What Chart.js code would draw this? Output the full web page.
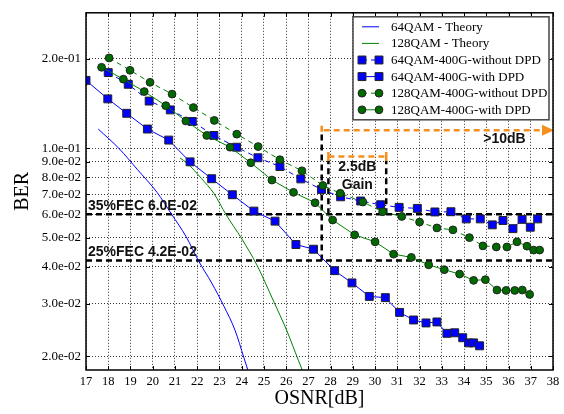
<!DOCTYPE html>
<html>
<head>
<meta charset="utf-8">
<script src="https://cdn.jsdelivr.net/npm/chart.js@4.4.1/dist/chart.umd.min.js"></script>
<style>
  html, body { margin: 0; padding: 0; background: #fff; }
  #wrap { width: 564px; height: 414px; }
</style>
</head>
<body>
<div id="wrap"><canvas id="berChart" width="564" height="414"></canvas></div>
<script>
// ─── Axis ticks ────────────────────────────────────────────────
const xTickVals   = [17, 18, 19, 20, 21, 22, 23, 24, 25, 26, 27, 28, 29, 30, 31, 32, 33, 34, 35, 36, 37, 38];
const yTickVals   = [0.2, 0.1, 0.09, 0.08, 0.07, 0.06, 0.05, 0.04, 0.03, 0.02];
const yTickLabels = ['2.0e-01', '1.0e-01', '9.0e-02', '8.0e-02', '7.0e-02', '6.0e-02', '5.0e-02', '4.0e-02', '3.0e-02', '2.0e-02'];

// ─── Series (OSNR in dB, BER) ──────────────────────────────────
const theory64X = [17.55, 18.5, 19.3, 20.2, 20.85, 21.5, 22.05, 22.66, 23.2, 23.7, 24.1, 24.3];
const theory64Y = [0.116, 0.0995, 0.085, 0.071, 0.060, 0.0505, 0.042, 0.0352, 0.0295, 0.0245, 0.0198, 0.0178];

const theory128X = [21.23, 21.55, 22.2, 22.75, 23.3, 24.0, 24.68, 25.43, 26.03, 26.55, 26.75];
const theory128Y = [0.0927, 0.089, 0.079, 0.0705, 0.0598, 0.0497, 0.0406, 0.0307, 0.0244, 0.0194, 0.0178];

const qam64NoDpdX = [18.0, 18.9, 19.84, 20.79, 21.78, 22.75, 23.77, 24.73, 25.72, 26.66, 27.59, 28.45, 29.35,
                     30.25, 31.08, 31.9, 32.69, 33.41, 34.1, 34.73, 35.27, 35.75, 36.2, 36.61, 36.98, 37.31];
const qam64NoDpdY = [0.1795, 0.164, 0.144, 0.1345, 0.123, 0.1104, 0.1008, 0.0929, 0.0868, 0.0789, 0.0727, 0.0687, 0.0665,
                     0.0646, 0.0633, 0.0628, 0.0611, 0.0612, 0.0579, 0.0579, 0.0553, 0.0572, 0.0537, 0.0577, 0.0543, 0.0579];

const qam64DpdX = [17.0, 17.98, 18.83, 19.76, 20.72, 21.68, 22.65, 23.58, 24.55, 25.5, 26.44, 27.23, 28.18,
                   28.96, 29.74, 30.46, 31.1, 31.73, 32.29, 32.78, 33.23, 33.58, 33.94, 34.2, 34.43, 34.7];
const qam64DpdY = [0.169, 0.1465, 0.131, 0.116, 0.1065, 0.090, 0.079, 0.0698, 0.0615, 0.0569, 0.0475, 0.0458, 0.0388,
                   0.0353, 0.0318, 0.0315, 0.0281, 0.0265, 0.0259, 0.0261, 0.0239, 0.0240, 0.0231, 0.0222, 0.0222, 0.0217];

const qam128NoDpdX = [18.04, 18.98, 19.88, 20.87, 21.83, 22.77, 23.78, 24.74, 25.72, 26.71, 27.65, 28.43, 29.45,
                      30.34, 31.2, 32.0, 32.78, 33.5, 34.24, 34.85, 35.45, 35.93, 36.38, 36.83, 37.13, 37.4];
const qam128NoDpdY = [0.201, 0.1827, 0.1665, 0.152, 0.137, 0.124, 0.1115, 0.1013, 0.0915, 0.084, 0.075, 0.0706, 0.066,
                      0.0612, 0.059, 0.0565, 0.054, 0.0532, 0.0501, 0.047, 0.0466, 0.0466, 0.0485, 0.0469, 0.0455, 0.0455];

const qam128DpdX = [17.7, 18.68, 19.62, 20.59, 21.49, 22.43, 23.48, 24.41, 25.36, 26.33, 27.3, 28.09, 29.08,
                    30.0, 30.83, 31.63, 32.41, 33.11, 33.8, 34.43, 34.96, 35.48, 35.89, 36.28, 36.62, 36.95];
const qam128DpdY = [0.187, 0.1706, 0.155, 0.139, 0.1235, 0.1104, 0.1008, 0.0894, 0.0782, 0.0711, 0.0656, 0.0574, 0.0512,
                    0.0485, 0.0441, 0.043, 0.0406, 0.0391, 0.0378, 0.036, 0.0362, 0.0334, 0.0333, 0.0333, 0.0334, 0.0323];

const seriesLabels = ['64QAM - Theory', '128QAM - Theory', '64QAM-400G-without DPD',
                      '64QAM-400G-with DPD', '128QAM-400G-without DPD', '128QAM-400G-with DPD'];

// ─── Annotations ───────────────────────────────────────────────
const fecLevels   = [0.06, 0.042];
const fecLabels   = ['35%FEC 6.0E-02', '25%FEC 4.2E-02'];
const marginX     = 27.6;   // 64QAM with DPD at 25% FEC
const marginTopY  = 0.119;
const arrowY      = 0.115;
const arrowEndX   = 38;
const gainX       = [27.9, 30.5];
const gainY       = 0.0938;
const gainText    = ['2.5dB', 'Gain'];
const gainTextY   = [0.0862, 0.0752];
const marginText  = '>10dB';
const marginTextX = 35.82;
const marginTextY = 0.107;

const SERIF  = '"Liberation Serif", "Times New Roman", serif';
const SANS   = '"Liberation Sans", Arial, sans-serif';
const BLUE   = '#0000ff';
const GREEN  = '#008000';
const ORANGE = '#f39020';

const pts = (xs, ys) => xs.map((x, i) => ({ x, y: ys[i] }));

function markerSet(label, xs, ys, color, style, dashed, order) {
    return {
        label,
        data: pts(xs, ys),
        showLine: true,
        borderColor: color,
        borderWidth: 1,
        borderDash: dashed ? [5, 4] : [],
        pointStyle: style,
        pointRadius: style === 'rect' ? 5.6 : 3.9,
        pointBackgroundColor: style === 'rect' ? BLUE : '#006a00',
        pointBorderColor: '#222',
        pointBorderWidth: 1,
        order
    };
}

const datasets = [
    { label: seriesLabels[0], data: pts(theory64X, theory64Y), showLine: true, borderColor: BLUE,
      borderWidth: 1, pointRadius: 0, cubicInterpolationMode: 'monotone', order: 10 },
    { label: seriesLabels[1], data: pts(theory128X, theory128Y), showLine: true, borderColor: GREEN,
      borderWidth: 1, pointRadius: 0, cubicInterpolationMode: 'monotone', order: 9 },
    markerSet(seriesLabels[2], qam64NoDpdX,  qam64NoDpdY,  BLUE,  'rect',   true,  8),
    markerSet(seriesLabels[3], qam64DpdX,    qam64DpdY,    BLUE,  'rect',   false, 7),
    markerSet(seriesLabels[4], qam128NoDpdX, qam128NoDpdY, GREEN, 'circle', true,  6),
    markerSet(seriesLabels[5], qam128DpdX,   qam128DpdY,   GREEN, 'circle', false, 5)
];

// ─── Frame with inward ticks ───────────────────────────────────
const framePlugin = {
    id: 'frame',
    afterDraw(chart) {
        const { ctx, chartArea: a, scales: { x, y } } = chart;
        ctx.save();
        ctx.strokeStyle = '#000';
        ctx.lineWidth = 1;
        ctx.beginPath();
        xTickVals.forEach(v => {
            const px = Math.round(x.getPixelForValue(v)) + 0.5;
            ctx.moveTo(px, a.bottom); ctx.lineTo(px, a.bottom - 4);
            ctx.moveTo(px, a.top);    ctx.lineTo(px, a.top + 4);
        });
        yTickVals.forEach(v => {
            const py = Math.round(y.getPixelForValue(v)) + 0.5;
            ctx.moveTo(a.left, py);  ctx.lineTo(a.left + 4, py);
            ctx.moveTo(a.right, py); ctx.lineTo(a.right - 4, py);
        });
        ctx.stroke();
        ctx.lineWidth = 1.5;
        ctx.strokeRect(a.left, a.top, a.right - a.left, a.bottom - a.top);
        ctx.restore();
    }
};

// ─── FEC lines, gain bracket and margin arrow ──────────────────
function dashed(ctx, color, pts2) {
    ctx.strokeStyle = color;
    ctx.beginPath();
    ctx.moveTo(pts2[0], pts2[1]);
    ctx.lineTo(pts2[2], pts2[3]);
    ctx.stroke();
}

const annotationPlugin = {
    id: 'annotations',
    beforeDatasetsDraw(chart) {
        const { ctx, chartArea: a, scales: { x, y } } = chart;
        ctx.save();
        ctx.lineWidth = 2.5;
        ctx.setLineDash([6, 4]);

        fecLevels.forEach(v => {
            const py = y.getPixelForValue(v);
            dashed(ctx, '#000', [a.left, py, a.right, py]);
        });

        // vertical markers
        const mx = x.getPixelForValue(marginX);
        const ay = y.getPixelForValue(arrowY);
        dashed(ctx, '#000', [mx, y.getPixelForValue(fecLevels[1]), mx, ay + 4]);
        const gy = y.getPixelForValue(gainY);
        gainX.forEach(v => {
            const gx = x.getPixelForValue(v);
            dashed(ctx, '#000', [gx, y.getPixelForValue(fecLevels[0]), gx, gy + 4]);
        });
        ctx.restore();
    },
    afterDatasetsDraw(chart) {
        const { ctx, chartArea: a, scales: { x, y } } = chart;
        ctx.save();
        ctx.lineWidth = 2.5;
        ctx.setLineDash([6, 4]);

        // >10dB arrow
        const mx = x.getPixelForValue(marginX);
        const ay = y.getPixelForValue(arrowY);
        const ex = x.getPixelForValue(arrowEndX);
        dashed(ctx, ORANGE, [mx, y.getPixelForValue(marginTopY), mx, ay + 5]);
        dashed(ctx, ORANGE, [mx + 2, ay, ex - 10, ay]);
        ctx.setLineDash([]);
        ctx.fillStyle = ORANGE;
        ctx.beginPath();
        ctx.moveTo(ex + 1, ay);
        ctx.lineTo(ex - 11, ay - 5.5);
        ctx.lineTo(ex - 11, ay + 5.5);
        ctx.closePath();
        ctx.fill();

        // 2.5dB bracket
        ctx.setLineDash([6, 4]);
        const gy = y.getPixelForValue(gainY);
        const g0 = x.getPixelForValue(gainX[0]);
        const g1 = x.getPixelForValue(gainX[1]);
        dashed(ctx, ORANGE, [g0, gy, g1, gy]);
        ctx.setLineDash([]);
        dashed(ctx, ORANGE, [g0, gy - 4.5, g0, gy + 4.5]);
        dashed(ctx, ORANGE, [g1, gy - 4.5, g1, gy + 4.5]);

        // texts
        ctx.fillStyle = '#111';
        ctx.font = 'bold 14px ' + SANS;
        ctx.textAlign = 'left';
        ctx.textBaseline = 'alphabetic';
        fecLevels.forEach((v, i) => {
            ctx.fillText(fecLabels[i], a.left + 2, y.getPixelForValue(v) - 4.5);
        });
        ctx.textAlign = 'center';
        ctx.textBaseline = 'middle';
        const gc = (g0 + g1) / 2;
        ctx.fillText(gainText[0], gc, y.getPixelForValue(gainTextY[0]));
        ctx.fillText(gainText[1], gc, y.getPixelForValue(gainTextY[1]));
        ctx.fillText(marginText, x.getPixelForValue(marginTextX), y.getPixelForValue(marginTextY));
        ctx.restore();
    }
};

// ─── Legend box inside the plot ────────────────────────────────
const legendPlugin = {
    id: 'boxLegend',
    afterDraw(chart) {
        const { ctx, chartArea: a } = chart;
        const boxL = a.right - 200, boxT = a.top + 4, boxW = 196, boxH = 103;
        ctx.save();
        ctx.fillStyle = '#fff';
        ctx.fillRect(boxL, boxT, boxW, boxH);
        ctx.strokeStyle = '#444';
        ctx.lineWidth = 1.5;
        ctx.strokeRect(boxL, boxT, boxW, boxH);

        chart.data.datasets.forEach((ds, i) => {
            const ry = boxT + 10 + i * 16.6;
            const x0 = boxL + 9, x1 = boxL + 26;
            ctx.strokeStyle = ds.borderColor;
            ctx.lineWidth = 1;
            ctx.setLineDash(ds.borderDash || []);
            ctx.beginPath();
            ctx.moveTo(x0, ry); ctx.lineTo(x1, ry);
            ctx.stroke();
            ctx.setLineDash([]);
            if (ds.pointRadius) {
                [x0, x1].forEach(px => {
                    ctx.fillStyle = ds.pointBackgroundColor;
                    ctx.strokeStyle = ds.pointBorderColor;
                    ctx.beginPath();
                    if (ds.pointStyle === 'rect') {
                        const s = ds.pointRadius * Math.SQRT1_2;
                        ctx.rect(px - s, ry - s, 2 * s, 2 * s);
                    } else {
                        ctx.arc(px, ry, ds.pointRadius, 0, Math.PI * 2);
                    }
                    ctx.fill();
                    ctx.stroke();
                });
            }
            ctx.fillStyle = '#000';
            ctx.font = '13px ' + SERIF;
            ctx.textAlign = 'left';
            ctx.textBaseline = 'middle';
            ctx.fillText(ds.label, boxL + 38, ry + 0.5);
        });
        ctx.restore();
    }
};

new Chart(document.getElementById('berChart'), {
    type: 'scatter',
    data: { datasets },
    plugins: [annotationPlugin, framePlugin, legendPlugin],
    options: {
        responsive: false,
        animation: false,
        devicePixelRatio: 1,
        layout: { padding: { top: 8, right: 11, left: 0, bottom: 0 } },
        plugins: { legend: { display: false }, tooltip: { enabled: false } },
        scales: {
            x: {
                type: 'linear',
                min: 17, max: 38,
                afterBuildTicks: s => { s.ticks = xTickVals.map(v => ({ value: v })); },
                afterFit: s => { s.height = 44; },
                ticks: { color: '#000', font: { family: SERIF, size: 12.5 }, padding: 4,
                         maxRotation: 0, autoSkip: false, callback: v => String(v) },
                grid: { color: '#333', lineWidth: 1, drawTicks: false },
                border: { display: false, dash: [1, 2] },
                title: { display: true, text: 'OSNR[dB]', color: '#000',
                         font: { family: SERIF, size: 20 }, padding: { top: 0, bottom: 3 } }
            },
            y: {
                type: 'logarithmic',
                min: 0.018, max: 0.285,
                afterBuildTicks: s => { s.ticks = yTickVals.map(v => ({ value: v })); },
                afterFit: s => { s.width = 86; },
                ticks: { color: '#000', font: { family: SERIF, size: 13 }, padding: 5, autoSkip: false,
                         callback: v => { const i = yTickVals.indexOf(v); return i >= 0 ? yTickLabels[i] : ''; } },
                grid: { color: '#333', lineWidth: 1, drawTicks: false },
                border: { display: false, dash: [1, 2] },
                title: { display: true, text: 'BER', color: '#000',
                         font: { family: SERIF, size: 20 }, padding: { top: 11, bottom: 0 } }
            }
        }
    }
});
</script>
</body>
</html>
